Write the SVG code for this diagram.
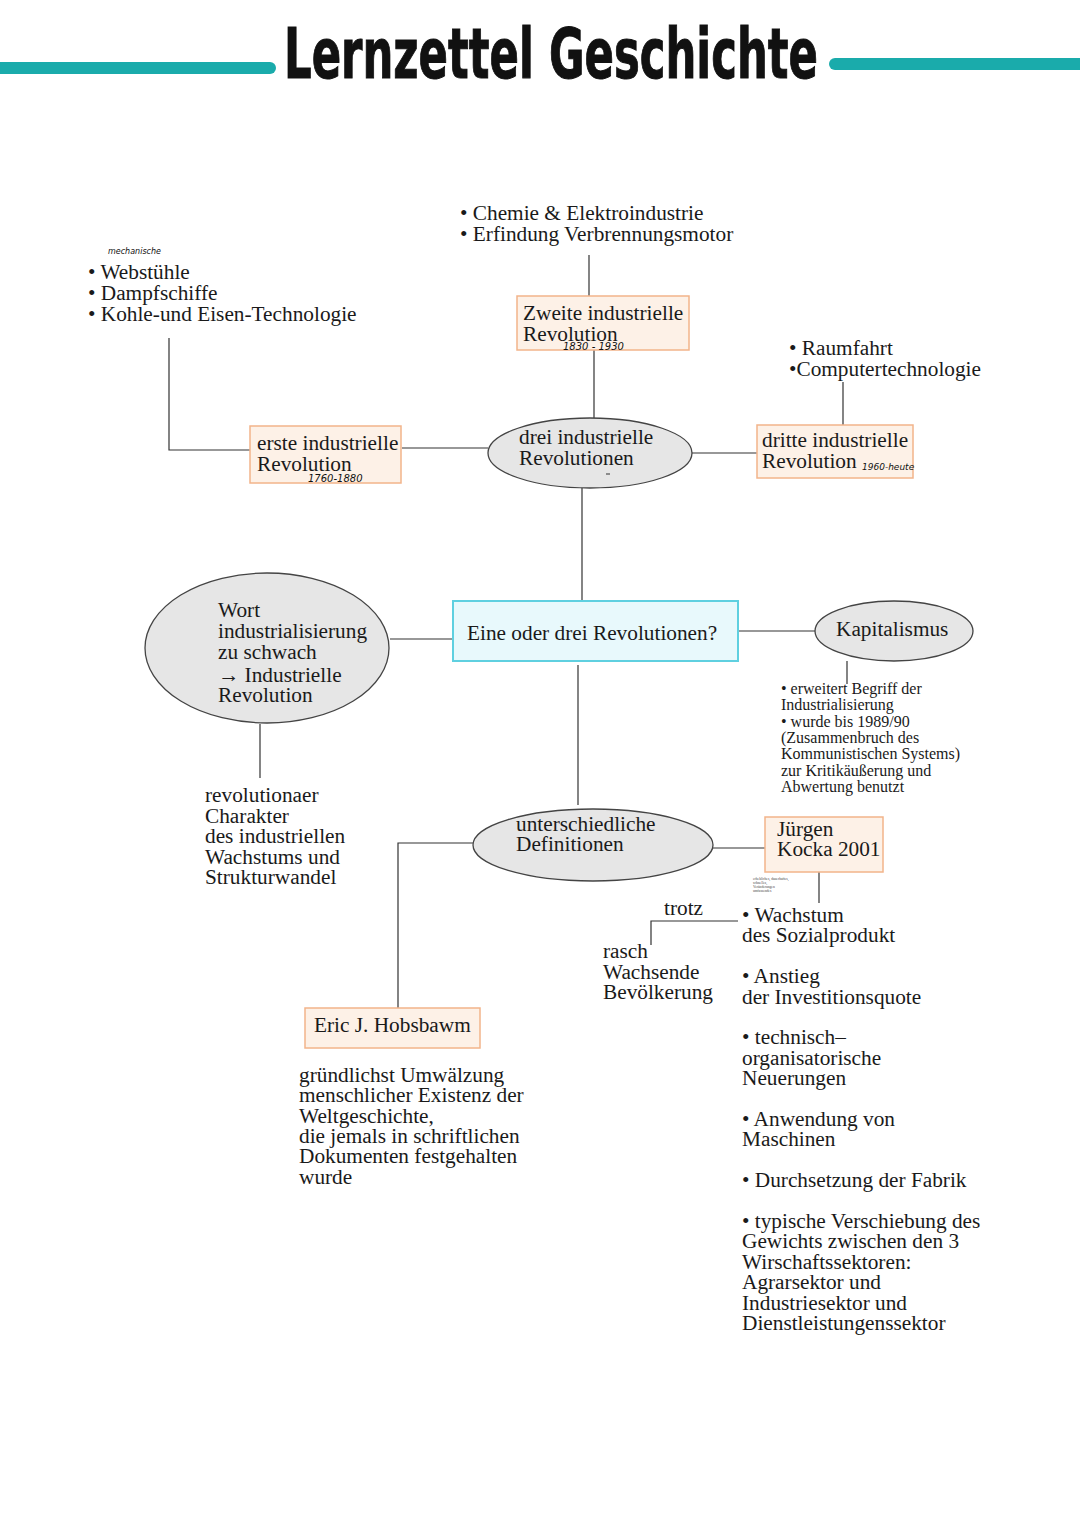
<svg xmlns="http://www.w3.org/2000/svg" width="1080" height="1527" viewBox="0 0 1080 1527">
<style>
.t{font-family:"Liberation Serif","DejaVu Serif",serif;font-size:21.3px;fill:#1a1a1a}
.s{font-family:"Liberation Serif","DejaVu Serif",serif;font-size:16px;fill:#1a1a1a}
.x{font-family:"Liberation Serif","DejaVu Serif",serif;font-size:8px;fill:#444}
.h{font-family:"DejaVu Sans","Liberation Sans",sans-serif;font-style:italic;fill:#111}
.box{fill:#fdf1e7;stroke:#f2b48a;stroke-width:1.5}
.ell{fill:#e6e6e6;stroke:#444;stroke-width:1.3}
.cen{fill:#e8f9fc;stroke:#5fd0e0;stroke-width:2}
.c{fill:none;stroke:#333;stroke-width:1.2}
.bar{stroke:#1aabab;stroke-width:12;stroke-linecap:round}
</style>
<rect width="1080" height="1527" fill="#fff"/>
<g id="title">
<line class="bar" x1="-10" y1="68" x2="270" y2="68"/>
<line class="bar" x1="835" y1="64" x2="1090" y2="64"/>
<text x="284" y="78" font-family="DejaVu Sans Condensed,DejaVu Sans,sans-serif" font-weight="bold" font-size="70" textLength="534" lengthAdjust="spacingAndGlyphs" fill="#111" stroke="#111" stroke-width="1">Lernzettel Geschichte</text>
</g>
<g id="connectors">
<polyline class="c" points="589,255 589,296"/>
<polyline class="c" points="594,350 594,418"/>
<polyline class="c" points="488,448 402,448"/>
<polyline class="c" points="169,338 169,450 250,450"/>
<polyline class="c" points="692,453 757,453"/>
<polyline class="c" points="843,382 843,425"/>
<polyline class="c" points="582,488 582,601"/>
<polyline class="c" points="453,639 390,639"/>
<polyline class="c" points="260,724 260,778"/>
<polyline class="c" points="738,631 816,631"/>
<polyline class="c" points="847,661 847,684"/>
<polyline class="c" points="578,665 578,805"/>
<polyline class="c" points="473,843 398,843 398,1008"/>
<polyline class="c" points="713,848 765,848"/>
<polyline class="c" points="819,872 819,903"/>
<polyline class="c" points="651,945 651,921 738,921"/>
</g>
<g id="zweite-list">
<text class="t" x="460" y="220">• Chemie &amp; Elektroindustrie</text>
<text class="t" x="460" y="241">• Erfindung Verbrennungsmotor</text>
</g>
<g id="zweite">
<rect class="box" x="517" y="296" width="172" height="54"/>
<text class="t" x="523" y="320">Zweite industrielle</text>
<text class="t" x="523" y="341">Revolution</text>
<text class="h" x="563" y="350" font-size="10">1830 - 1930</text>
</g>
<g id="drei">
<ellipse class="ell" cx="590" cy="453" rx="102" ry="35"/>
<text class="t" x="519" y="444">drei industrielle</text>
<text class="t" x="519" y="465">Revolutionen</text>
<line x1="606" y1="474" x2="610" y2="474" stroke="#333" stroke-width="1"/>
</g>
<g id="erste-list">
<text class="h" x="108" y="254" font-size="8">mechanische</text>
<text class="t" x="88" y="279">• Webstühle</text>
<text class="t" x="88" y="300">• Dampfschiffe</text>
<text class="t" x="88" y="321">• Kohle-und Eisen-Technologie</text>
</g>
<g id="erste">
<rect class="box" x="250" y="426" width="151" height="57"/>
<text class="t" x="257" y="450">erste industrielle</text>
<text class="t" x="257" y="471">Revolution</text>
<text class="h" x="308" y="482" font-size="10">1760-1880</text>
</g>
<g id="dritte-list">
<text class="t" x="789" y="355">• Raumfahrt</text>
<text class="t" x="789" y="376">•Computertechnologie</text>
</g>
<g id="dritte">
<rect class="box" x="757" y="425" width="156" height="53"/>
<text class="t" x="762" y="447">dritte industrielle</text>
<text class="t" x="762" y="468">Revolution</text>
<text class="h" x="862" y="470" font-size="9">1960-heute</text>
</g>
<g id="central">
<rect class="cen" x="453" y="601" width="285" height="60"/>
<text class="t" x="467" y="640">Eine oder drei Revolutionen?</text>
</g>
<g id="wort">
<ellipse class="ell" cx="267" cy="648" rx="122" ry="75"/>
<text class="t" x="218" y="617">Wort</text>
<text class="t" x="218" y="638">industrialisierung</text>
<text class="t" x="218" y="659">zu schwach</text>
<text class="t" x="218" y="682">→ Industrielle</text>
<text class="t" x="218" y="702">Revolution</text>
</g>
<g id="revolutionaer">
<text class="t" x="205" y="802">revolutionaer</text>
<text class="t" x="205" y="823">Charakter</text>
<text class="t" x="205" y="843">des industriellen</text>
<text class="t" x="205" y="864">Wachstums und</text>
<text class="t" x="205" y="884">Strukturwandel</text>
</g>
<g id="kapitalismus">
<ellipse class="ell" cx="894" cy="631" rx="79" ry="30"/>
<text class="t" x="836" y="636">Kapitalismus</text>
</g>
<g id="kapitalismus-notes">
<text class="s" x="781" y="694">• erweitert Begriff der</text>
<text class="s" x="781" y="710">Industrialisierung</text>
<text class="s" x="781" y="727">• wurde bis 1989/90</text>
<text class="s" x="781" y="743">(Zusammenbruch des</text>
<text class="s" x="781" y="759">Kommunistischen Systems)</text>
<text class="s" x="781" y="776">zur Kritikäußerung und</text>
<text class="s" x="781" y="792">Abwertung benutzt</text>
</g>
<g id="unterschiedliche">
<ellipse class="ell" cx="593" cy="845" rx="120" ry="36"/>
<text class="t" x="516" y="831">unterschiedliche</text>
<text class="t" x="516" y="851">Definitionen</text>
</g>
<g id="hobsbawm">
<rect class="box" x="305" y="1008" width="175" height="40"/>
<text class="t" x="314" y="1032">Eric J. Hobsbawm</text>
</g>
<g id="hobsbawm-text">
<text class="t" x="299" y="1082">gründlichst Umwälzung</text>
<text class="t" x="299" y="1102">menschlicher Existenz der</text>
<text class="t" x="299" y="1123">Weltgeschichte,</text>
<text class="t" x="299" y="1143">die jemals in schriftlichen</text>
<text class="t" x="299" y="1163">Dokumenten festgehalten</text>
<text class="t" x="299" y="1184">wurde</text>
</g>
<g id="kocka">
<rect class="box" x="765" y="817" width="118" height="55"/>
<text class="t" x="777" y="836">Jürgen</text>
<text class="t" x="777" y="856">Kocka 2001</text>
<g transform="translate(753,880) scale(0.45)">
<text class="x" x="0" y="0">erhebliches, dauerhaftes,</text>
<text class="x" x="0" y="9">schnelles,</text>
<text class="x" x="0" y="18">Veränderungen</text>
<text class="x" x="0" y="27">umfassendes</text>
</g>
</g>
<g id="trotz">
<text class="t" x="664" y="915">trotz</text>
<text class="t" x="603" y="958">rasch</text>
<text class="t" x="603" y="979">Wachsende</text>
<text class="t" x="603" y="999">Bevölkerung</text>
</g>
<g id="kocka-list">
<text class="t" x="742" y="922">•  Wachstum</text>
<text class="t" x="742" y="942">des Sozialprodukt</text>
<text class="t" x="742" y="983">• Anstieg</text>
<text class="t" x="742" y="1004">der Investitionsquote</text>
<text class="t" x="742" y="1044">• technisch–</text>
<text class="t" x="742" y="1065">organisatorische</text>
<text class="t" x="742" y="1085">Neuerungen</text>
<text class="t" x="742" y="1126">• Anwendung von</text>
<text class="t" x="742" y="1146">Maschinen</text>
<text class="t" x="742" y="1187">• Durchsetzung der Fabrik</text>
<text class="t" x="742" y="1228">• typische Verschiebung des</text>
<text class="t" x="742" y="1248">Gewichts zwischen den 3</text>
<text class="t" x="742" y="1269">Wirschaftssektoren:</text>
<text class="t" x="742" y="1289">Agrarsektor und</text>
<text class="t" x="742" y="1310">Industriesektor und</text>
<text class="t" x="742" y="1330">Dienstleistungenssektor</text>
</g>
</svg>
